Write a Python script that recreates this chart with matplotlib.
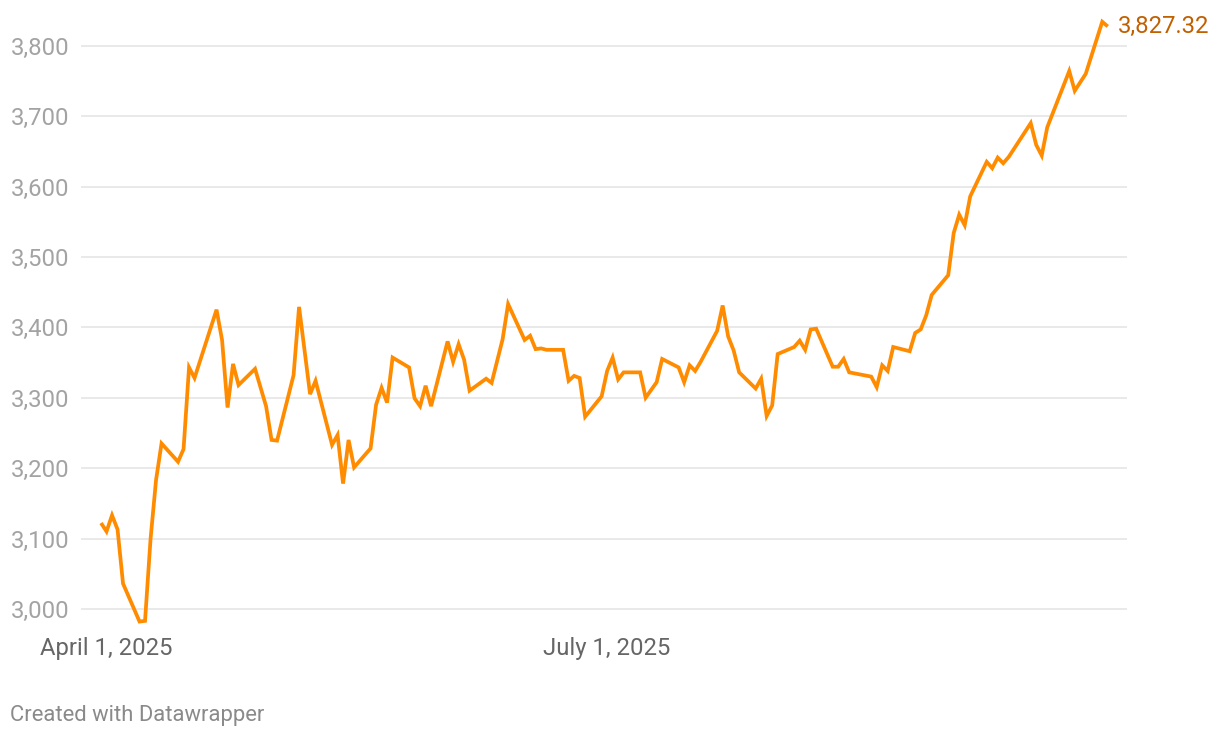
import matplotlib
matplotlib.use("Agg")
import matplotlib.pyplot as plt
import matplotlib.dates as mdates
import numpy as np
import pandas as pd

dates = [
    "2025-03-31", "2025-04-01", "2025-04-02", "2025-04-03", "2025-04-04",
    "2025-04-07", "2025-04-08", "2025-04-09", "2025-04-10", "2025-04-11",
    "2025-04-14", "2025-04-15", "2025-04-16", "2025-04-17",
    "2025-04-21", "2025-04-22", "2025-04-23", "2025-04-24", "2025-04-25",
    "2025-04-28", "2025-04-30", "2025-05-01", "2025-05-02",
    "2025-05-05", "2025-05-06", "2025-05-08", "2025-05-09",
    "2025-05-12", "2025-05-13", "2025-05-14", "2025-05-15", "2025-05-16",
    "2025-05-19", "2025-05-20", "2025-05-21", "2025-05-22", "2025-05-23",
    "2025-05-26", "2025-05-27", "2025-05-28", "2025-05-29", "2025-05-30",
    "2025-06-02", "2025-06-03", "2025-06-04", "2025-06-05", "2025-06-06",
    "2025-06-09", "2025-06-10", "2025-06-12", "2025-06-13",
    "2025-06-16", "2025-06-17", "2025-06-18", "2025-06-19", "2025-06-20",
    "2025-06-23", "2025-06-24", "2025-06-25", "2025-06-26", "2025-06-27",
    "2025-06-30", "2025-07-01", "2025-07-02", "2025-07-03", "2025-07-04",
    "2025-07-07", "2025-07-08", "2025-07-10", "2025-07-11",
    "2025-07-14", "2025-07-15", "2025-07-16", "2025-07-17", "2025-07-18",
    "2025-07-21", "2025-07-22", "2025-07-23", "2025-07-24", "2025-07-25",
    "2025-07-28", "2025-07-29", "2025-07-30", "2025-07-31", "2025-08-01",
    "2025-08-04", "2025-08-05", "2025-08-06", "2025-08-07", "2025-08-08",
    "2025-08-11", "2025-08-12", "2025-08-13", "2025-08-14",
    "2025-08-18", "2025-08-19", "2025-08-20", "2025-08-21", "2025-08-22",
    "2025-08-25", "2025-08-26", "2025-08-27", "2025-08-28", "2025-08-29",
    "2025-09-01", "2025-09-02", "2025-09-03", "2025-09-04", "2025-09-05",
    "2025-09-08", "2025-09-09", "2025-09-10", "2025-09-11", "2025-09-12",
    "2025-09-16", "2025-09-17", "2025-09-18", "2025-09-19",
    "2025-09-23", "2025-09-24", "2025-09-26", "2025-09-29", "2025-09-30",
]
values = [
    3122, 3110, 3133, 3113, 3036,
    2982, 2983, 3099, 3183, 3235,
    3209, 3227, 3343, 3328,
    3425, 3382, 3286, 3348, 3318,
    3341, 3288, 3240, 3239,
    3332, 3429, 3305, 3324,
    3233, 3247, 3178, 3240, 3201,
    3228, 3290, 3314, 3293, 3357,
    3343, 3299, 3288, 3317, 3288,
    3380, 3351, 3376, 3354, 3310,
    3327, 3321, 3383, 3433,
    3382, 3388, 3369, 3370, 3368,
    3368, 3324, 3331, 3328, 3273,
    3302, 3338, 3357, 3326, 3336,
    3336, 3300, 3322, 3355,
    3343, 3322, 3346, 3338, 3351,
    3395, 3431, 3387, 3367, 3336,
    3313, 3327, 3274, 3289, 3362,
    3372, 3381, 3368, 3397, 3398,
    3344, 3344, 3355, 3336,
    3330, 3315, 3346, 3338, 3372,
    3366, 3392, 3397, 3417, 3446,
    3474, 3534, 3560, 3545, 3586,
    3635, 3626, 3641, 3633, 3642,
    3690, 3659, 3644, 3684,
    3764, 3736, 3760, 3834, 3827.32,
]
y_ticks = [3000, 3100, 3200, 3300, 3400, 3500, 3600, 3700, 3800]
x_tick_dates = ["2025-04-01", "2025-07-01"]
x_tick_labels = ["April 1, 2025", "July 1, 2025"]
end_label = "3,827.32"

plt.rcParams['font.family'] = ['Roboto', 'DejaVu Sans']

W, H = 1220, 738
fig = plt.figure(figsize=(W / 100, H / 100), dpi=100)
fig.patch.set_facecolor("white")

# axes placement in pixels
ax_left, ax_right, ax_top, ax_bottom = 81, 1127, 15, 625
ax = fig.add_axes([ax_left / W, 1 - ax_bottom / H, (ax_right - ax_left) / W, (ax_bottom - ax_top) / H])

x = pd.to_datetime(dates)
xn = mdates.date2num(x)
ax.plot(xn, values, color="#ff8c00", lw=2.7, solid_joinstyle="miter", solid_capstyle="butt",
        clip_on=False, zorder=3)

start = mdates.date2num(pd.Timestamp("2025-03-31"))
ax.set_xlim(start - 3.64, start + 186.5)
y0 = 3000 - (ax_bottom - 608.9) / 0.704
y1 = 3000 + (608.9 - ax_top) / 0.704
ax.set_ylim(y0, y1)

for t in y_ticks:
    ax.axhline(t, color="#e3e3e3", lw=1.1, zorder=1)
ax.set_yticks(y_ticks)
ax.set_yticklabels([f"{t:,}" for t in y_ticks])
ax.tick_params(axis="y", length=0, pad=8.5, labelsize=17.2, labelcolor="#a3a3a3")

ax.set_xticks(mdates.date2num(pd.to_datetime(x_tick_dates)))
ax.set_xticklabels(x_tick_labels)
ax.tick_params(axis="x", length=0, pad=9, labelsize=17.2, labelcolor="#666666")

for s in ax.spines.values():
    s.set_visible(False)
ax.set_facecolor("none")

ax.annotate(end_label, xy=(xn[-1], values[-1]), xytext=(7, 0), textcoords="offset points",
            ha="left", va="center", fontsize=17.2, color="#c06000")

fig.text(10 / W, 1 - 715 / H, "Created with Datawrapper", ha="left", va="center",
         fontsize=15.8, color="#8a8a8a")

fig.savefig("out.png", dpi=100, facecolor="white")
